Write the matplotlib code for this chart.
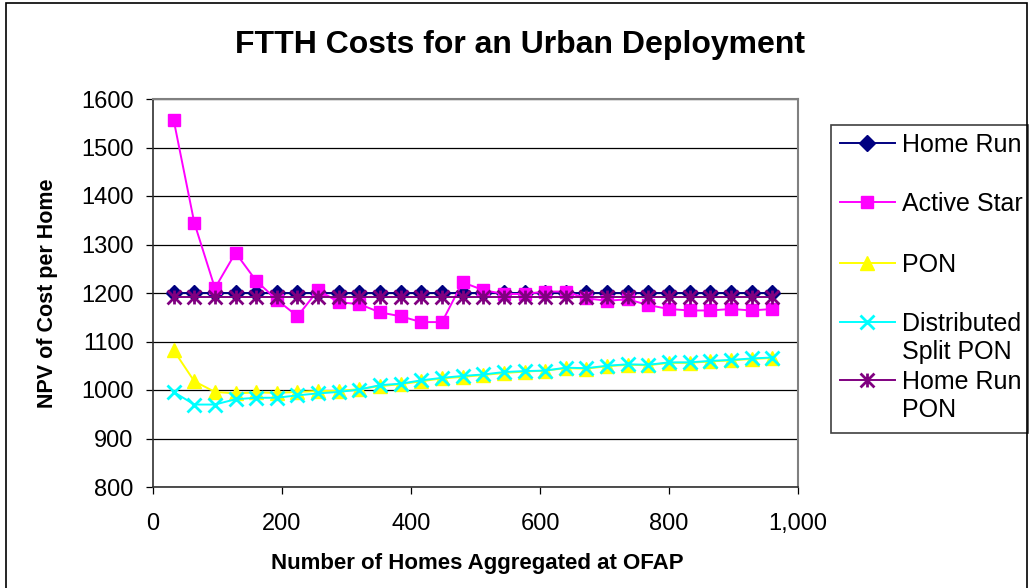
import matplotlib
matplotlib.use('Agg')
import matplotlib.pyplot as plt
from matplotlib.lines import Line2D
from matplotlib.patches import Rectangle
from matplotlib.path import Path
from matplotlib.transforms import Bbox, TransformedBbox

plt.rcParams['font.family'] = ['Liberation Sans', 'DejaVu Sans']

# homes aggregated at OFAP
homes = [32, 64, 96, 128, 160, 192, 224, 256, 288, 320,
         352, 384, 416, 448, 480, 512, 544, 576, 608, 640,
         672, 704, 736, 768, 800, 832, 864, 896, 928, 960]

home_run = [1200, 1200, 1200, 1200, 1200, 1200, 1200, 1200, 1200, 1200,
            1200, 1200, 1200, 1200, 1200, 1200, 1200, 1200, 1200, 1200,
            1200, 1200, 1200, 1200, 1200, 1200, 1200, 1200, 1200, 1200]
active_star = [1557, 1345, 1210, 1283, 1225, 1186, 1152, 1206, 1181, 1177,
               1160, 1152, 1140, 1140, 1222, 1206, 1198, 1198, 1203, 1203,
               1189, 1184, 1187, 1175, 1167, 1164, 1164, 1167, 1164, 1167]
pon = [1082, 1018, 996, 993, 995, 994, 996, 998, 998, 1002,
       1008, 1012, 1018, 1024, 1027, 1031, 1035, 1038, 1040, 1045,
       1044, 1049, 1052, 1051, 1056, 1056, 1059, 1061, 1064, 1066]
dist_split_pon = [996, 970, 970, 981, 984, 984, 989, 993, 996, 1001,
                  1010, 1013, 1020, 1025, 1029, 1032, 1037, 1039, 1040, 1046,
                  1045, 1050, 1053, 1052, 1057, 1057, 1060, 1062, 1065, 1067]
home_run_pon = [1191, 1191, 1191, 1191, 1191, 1191, 1191, 1191, 1191, 1191,
                1191, 1191, 1191, 1191, 1191, 1191, 1191, 1191, 1191, 1191,
                1191, 1191, 1191, 1191, 1191, 1191, 1191, 1191, 1191, 1191]

x_ticks = [0, 200, 400, 600, 800, 1000]
x_tick_labels = ['0', '200', '400', '600', '800', '1,000']
y_ticks = [800, 900, 1000, 1100, 1200, 1300, 1400, 1500, 1600]

# excel style asterisk: vertical bar plus an X
star = Path([(0, -1), (0, 1), (-1, -1), (1, 1), (-1, 1), (1, -1)],
            [Path.MOVETO, Path.LINETO] * 3)

series = [
    ('Home Run', home_run, '#000080', 'D', 8, None),
    ('Active Star', active_star, '#FF00FF', 's', 9, None),
    ('PON', pon, '#FFFF00', '^', 10, None),
    ('Distributed\nSplit PON', dist_split_pon, '#00FFFF', 'x', 10, 2.0),
    ('Home Run\nPON', home_run_pon, '#800080', star, 10, 2.0),
]

W, H = 1029, 588
fig = plt.figure(figsize=(W / 100, H / 100), dpi=100)
ax = fig.add_axes([153 / W, 1 - 487 / H, 645 / W, 388 / H])

for name, vals, col, mk, ms, mew in series:
    ax.plot(homes, vals, color=col, lw=1.4, marker=mk, ms=ms,
            mec=col, mfc=col, mew=mew if mew else 1.0, clip_on=False)

ax.set_xlim(0, 1000)
ax.set_ylim(800, 1600)
ax.set_xticks(x_ticks)
ax.set_xticklabels(x_tick_labels)
ax.set_yticks(y_ticks)
ax.grid(axis='y', color='black', lw=0.9)
ax.set_axisbelow(True)
ax.tick_params(axis='both', labelsize=17, direction='out', length=5,
               width=0.9, color='black')
ax.tick_params(axis='x', pad=14)
ax.tick_params(axis='y', pad=9)
for s in ['top', 'right']:
    ax.spines[s].set_color('#808080')
    ax.spines[s].set_linewidth(1.5)
for s in ['left', 'bottom']:
    ax.spines[s].set_color('#303030')
    ax.spines[s].set_linewidth(1.2)

ax.set_xlabel('Number of Homes Aggregated at OFAP', fontsize=16,
              fontweight='bold')
ax.xaxis.set_label_coords((477 - 153) / 645, -(553 - 487) / 388)
ax.set_ylabel('NPV of Cost per Home', fontsize=15.5, fontweight='bold')
ax.yaxis.set_label_coords((58 - 153) / 645, 0.5)

fig.text(520 / W, 1 - 45 / H, 'FTTH Costs for an Urban Deployment',
         fontsize=23, fontweight='bold', ha='center', va='center')

# legend drawn by hand to mimic the clipped excel box
bx0, by0, bw, bh = 831 / W, 1 - 433 / H, (1028 - 831) / W, (433 - 125) / H
box = Rectangle((bx0, by0), bw, bh, transform=fig.transFigure,
                fill=False, ec='#404040', lw=1.2)
fig.add_artist(box)
clip = TransformedBbox(Bbox.from_bounds(bx0, by0, bw, bh), fig.transFigure)
rows = [143, 202, 263, 322, 380]
for (name, vals, col, mk, ms, mew), yy in zip(series, rows):
    yf = 1 - yy / H
    fig.add_artist(Line2D([840 / W, 895 / W], [yf, yf], color=col, lw=1.4,
                          transform=fig.transFigure))
    fig.add_artist(Line2D([867 / W], [yf], color=col, marker=mk, ms=ms,
                          mec=col, mfc=col, mew=mew if mew else 1.0,
                          transform=fig.transFigure))
    t = fig.text(902 / W, yf + 10 / H, name, fontsize=18, ha='left',
                 va='top', linespacing=1.2)
    t.set_clip_box(clip)
    t.set_clip_on(True)

# outer chart border
fig.add_artist(Rectangle((6 / W, -0.05), (1027 - 6) / W, 1.05 - 3 / H,
                         transform=fig.transFigure, fill=False,
                         ec='black', lw=1.2))

fig.savefig('out.png', dpi=100)
